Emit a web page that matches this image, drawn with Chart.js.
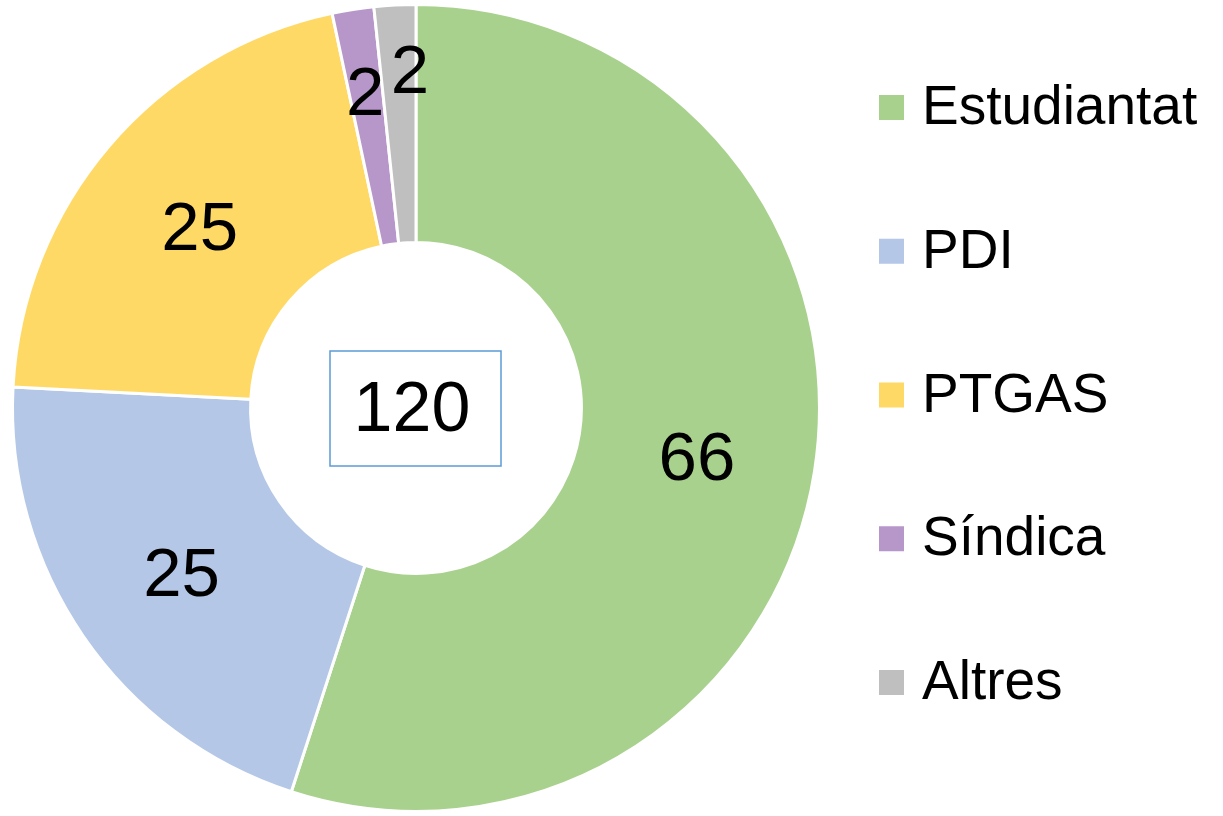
<!DOCTYPE html>
<html>
<head>
<meta charset="utf-8">
<script src="https://cdn.jsdelivr.net/npm/chart.js@4.4.0/dist/chart.umd.min.js"></script>
<style>
html,body{margin:0;padding:0;background:#fff;}
#wrap{width:1223px;height:816px;position:relative;}
</style>
</head>
<body>
<div id="wrap"><canvas id="grafic"></canvas></div>
<script>
const categories = ["Estudiantat", "PDI", "PTGAS", "Síndica", "Altres"];
const valors = [66, 25, 25, 2, 2];
const colors = ["#A9D18E", "#B4C7E7", "#FFD966", "#B797CA", "#BFBFBF"];
const total = "120";

// empenta radial de les etiquetes petites (px) i gir (graus)
const desplac = [0, 0, 0, 40, 58];
const gir = [0, 0, 0, 0, 2];

const etiquetes = {
id:"etiquetes",
afterDatasetsDraw(chart){
const ctx = chart.ctx;
const meta = chart.getDatasetMeta(0);
ctx.save();
ctx.fillStyle = "#000";
ctx.font = "69px 'Liberation Sans', Arial, sans-serif";
ctx.textAlign = "center";
ctx.textBaseline = "middle";
meta.data.forEach((arc,i)=>{
const p = arc.getProps(["x","y","startAngle","endAngle","innerRadius","outerRadius"],true);
const a = (p.startAngle + p.endAngle)/2 + gir[i]*Math.PI/180;
const r = (p.innerRadius + p.outerRadius)/2 + desplac[i];
ctx.fillText(String(valors[i]), p.x + r*Math.cos(a), p.y + r*Math.sin(a) + 8);
});

// total al centre
const c = meta.data[0];
ctx.strokeStyle = "#5B9BD5";
ctx.lineWidth = 1.5;
ctx.strokeRect(c.x - 86, c.y - 57, 171, 115);
ctx.font = "70px 'Liberation Sans', Arial, sans-serif";
ctx.fillText(total, c.x - 4, c.y + 4);

// llegenda
ctx.textAlign = "left";
ctx.font = "55px 'Liberation Sans', Arial, sans-serif";
categories.forEach((cat,i)=>{
const y = 108 + i*143.75;
ctx.fillStyle = colors[i];
ctx.fillRect(879, y - 13, 25, 25);
ctx.fillStyle = "#000";
ctx.fillText(cat, 922, y + 1);
});
ctx.restore();
}
};

new Chart(document.getElementById("grafic"),{
type:"doughnut",
data:{
labels:categories,
datasets:[{
data:valors,
backgroundColor:colors,
borderColor:"#fff",
borderWidth:3
}]
},
options:{
responsive:true,
maintainAspectRatio:false,
animation:false,
cutout:"41%",
layout:{padding:{left:0,right:391,top:3,bottom:3}},
plugins:{legend:{display:false},tooltip:{enabled:false}}
},
plugins:[etiquetes]
});
</script>
</body>
</html>
